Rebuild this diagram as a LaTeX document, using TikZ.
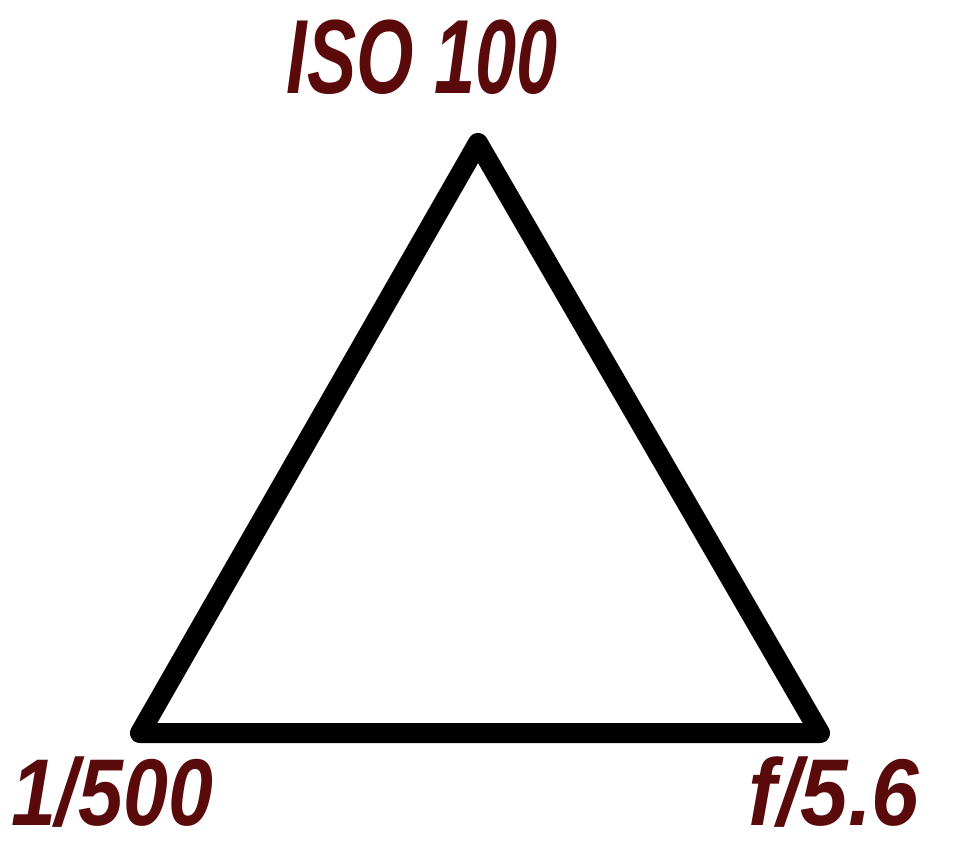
\documentclass[tikz,border=0pt]{standalone}
\usepackage{fontspec}
\setmainfont{Liberation Sans}
\usepackage{tikz}
\usetikzlibrary{positioning, calc}
\definecolor{maroon}{RGB}{90,10,10}

\begin{document}
\begin{tikzpicture}[x=0.02cm, y=-0.02cm,
    every node/.style={font=\fontsize{60}{60}\selectfont\bfseries\itshape, text=maroon, inner sep=0pt},
    corner/.style={font=\fontsize{54}{54}\selectfont\bfseries\itshape}]
  \useasboundingbox (0,0) rectangle (953,853);
  \coordinate (top) at (478,143);
  \coordinate (left) at (140,733);
  \coordinate (right) at (820,733);
  \draw[line width=0.4cm, line join=round] (top) -- (left) -- (right) -- cycle;
  \node (iso) at (422,57) {\scalebox{0.7}[1]{ISO 100}};
  \node[corner] (shutter) at (112,792) {\scalebox{0.85}[1]{1/500}};
  \node[corner] (aperture) at (834,792) {\scalebox{0.9}[1]{f/5.6}};
\end{tikzpicture}
\end{document}
